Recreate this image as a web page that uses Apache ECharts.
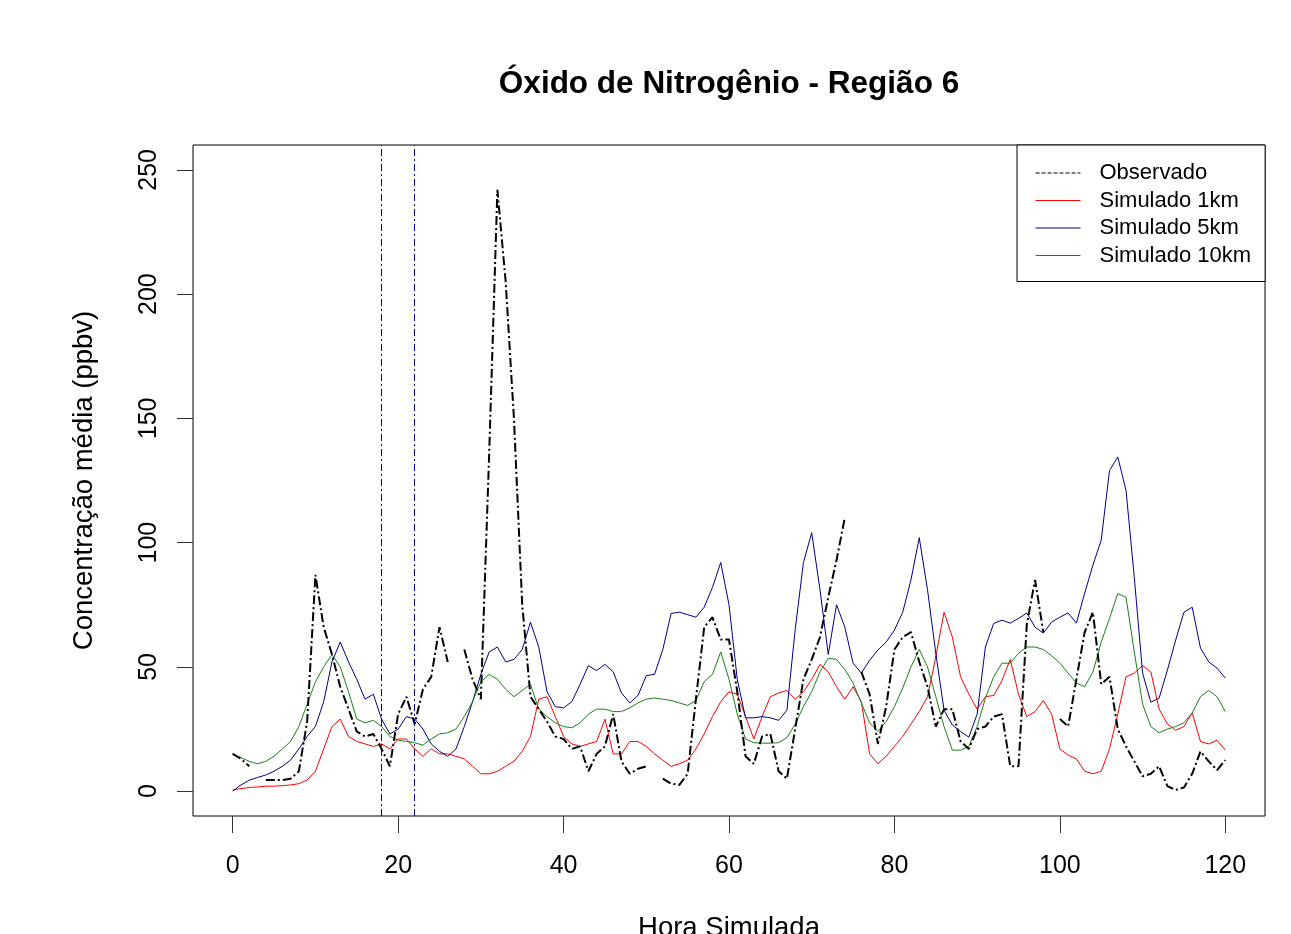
<!DOCTYPE html>
<html>
<head>
<meta charset="utf-8">
<script src="https://cdn.jsdelivr.net/npm/echarts@6/dist/echarts.min.js"></script>
<style>
html,body{margin:0;padding:0;background:#fff;}
#chart{width:1291px;height:934px;}
</style>
</head>
<body>
<div id="chart"></div>
<script>
// ---- data (hours 0..120) ----
const observado = [15,13,10,null,4.5,4.5,4.5,5,8,28,87,66,55,42,33,24,22,23,17,10,31,38,27,41,46,66,52,null,57,45,37,135,242,205,150,75,38,33,28,22,21,17,18,8,15,18,31,12,7,9,10,null,5,3,2.5,7,37,66,70,61,61,40,14,11,22,23,8,5,25,45,53,62,78,93,110,null,48,39,19,34,57,62,64,52,42,26,33,33,20,17,25,26,30,31,10,10,67,85,64,null,29,26,45,64,72,43,46,25,18,12,6,7,10,2,0.5,1.5,7,16,12,8.5,12.5];
const sim1km = [0.5,1,1.5,1.7,2,2,2.2,2.5,3,4.5,8,17,26,29,22,20,19,18,19,17,21,21,17,14,17,15,15,14,13,10,7,7,8,10,12,16,22,37,38,30,22,19,18,19,20,29,15,15,20,20,18,15,12.5,10,11,12.5,17,23,30,36,40,39,30,21,30,38,39.5,40.5,37,40,45,51,48,42,37,42,36,15,11,14,18,22,27,32,38,54,72,62,46,39,33,38,38.5,44.5,53,39,30,32,36.5,31,17,14.5,13,8,7,8,17,31,46,47.5,50.5,48,33,27,24.5,26,31.5,20,19,20.5,16.5];
const sim5km = [0,2.5,4.4,5.5,6.5,8,10,12.5,17,22,26,36,52,60,52,45,37,39,29,23,25,30,29,25,19,16,14,17,26,36,47,56,58,52,53,57,68,58,40,34,33.5,36,43,50.5,48.5,51,48,39.5,35.5,38.5,46.5,47,57,71.5,72,71,70,74,82,92,75,45,29.5,29.5,30,29.5,28.5,32.5,65,92,104,81,55,75,66,51.5,47.5,52.7,56.8,60,64.8,72,85,102,81,55.5,32.6,26.6,24,21.7,31,58,67.5,68.8,67.6,69.5,71.7,66,63.6,68,70,71.7,67.6,79.7,91,101,129,134.5,121,86,47.5,35.8,37.4,48.7,60.8,72,74,57.6,52,49.5,45.5];
const sim10km = [15,13.5,12,11,12,14,17,20,26,35,44,50,55,50,40,29,27.5,28.5,26,22,20.5,20,19.5,18.5,21,23,23.5,25,30,36,44,47,45,41,38,40.5,43,33,30,27.5,26,25.5,27.5,31,33,33,32,32,33.5,35.5,37,37.5,37,36.5,35.5,34.5,36.5,44,47,56,45,31,21,19.5,19.3,19.3,19.5,21.5,27,34,40,48,53.5,53,49,43.5,35.5,27.5,24,28,34,41.5,50,57,50,38,26,16.5,16.5,18,26,37.5,46,51.5,51.5,55.5,58,58,57,54.5,51.5,47.5,43.5,42,48,60,69.5,79.5,78,56,35,26,23.5,25,26,27.5,31.5,38,40.5,38,32];
const markHours = [18, 22];
const xTicks = [0,20,40,60,80,100,120];
const yTicks = [0,50,100,150,200,250];
const seriesNames = ['Observado','Simulado 1km','Simulado 5km','Simulado 10km'];

function pairs(arr){ return arr.map((v,i)=>[i, v===null ? '-' : v]); }

const FONT = 'Liberation Sans, Arial, sans-serif';
const chart = echarts.init(document.getElementById('chart'), null, {renderer:'canvas'});
chart.setOption({
  animation:false,
  backgroundColor:'#ffffff',
  title:{
    text:'Óxido de Nitrogênio - Região 6',
    left:724, top:63, textAlign:'center',
    textStyle:{fontFamily:FONT, fontSize:31.5, fontWeight:'bold', color:'#000'}
  },
  grid:{left:193, top:145, right:26, bottom:118, show:true, borderColor:'#000', borderWidth:1,
        containLabel:false, outerBoundsMode:'none'},
  legend:{
    orient:'vertical', left:1017, top:145,
    padding:[17,14,15,18], itemGap:5.5, itemWidth:45, itemHeight:14,
    backgroundColor:'#fff', borderColor:'#000', borderWidth:1, borderRadius:0,
    itemStyle:{opacity:0},
    textStyle:{fontFamily:FONT, fontSize:22, color:'#000', padding:[0,0,0,14], lineHeight:22},
    data:[
      {name:seriesNames[0], itemStyle:{opacity:0}, lineStyle:{width:1, type:[4,2]}},
      {name:seriesNames[1], itemStyle:{opacity:0}, lineStyle:{width:1}},
      {name:seriesNames[2], itemStyle:{opacity:0}, lineStyle:{width:1}},
      {name:seriesNames[3], itemStyle:{opacity:0}, lineStyle:{width:1}}
    ]
  },
  xAxis:{
    type:'value', min:-4.8, max:124.8,
    name:'Hora Simulada', nameLocation:'middle', nameGap:98,
    nameTextStyle:{fontFamily:FONT, fontSize:27.5, color:'#000'},
    axisLine:{show:false, onZero:false},
    axisTick:{show:true, length:17, customValues:xTicks, lineStyle:{color:'#333'}},
    axisLabel:{customValues:xTicks, fontFamily:FONT, fontSize:25, color:'#000', margin:38},
    splitLine:{show:false}
  },
  yAxis:{
    type:'value', min:-10, max:260,
    name:'Concentração média (ppbv)', nameLocation:'middle', nameGap:95,
    nameTextStyle:{fontFamily:FONT, fontSize:27.5, color:'#000'},
    axisLine:{show:false, onZero:false},
    axisTick:{show:true, length:16, customValues:yTicks, lineStyle:{color:'#333'}},
    axisLabel:{customValues:yTicks, rotate:90, fontFamily:FONT, fontSize:25, color:'#000', margin:31},
    splitLine:{show:false}
  },
  series:[
    {name:seriesNames[0], type:'line', data:pairs(observado), symbol:'none', connectNulls:false,
     lineStyle:{color:'#000', width:2, type:[9,3,2,3]}, itemStyle:{color:'#000'}, z:3,
     markLine:{silent:true, symbol:'none', label:{show:false}, animation:false,
       lineStyle:{color:'#0000a0', width:1, type:[7,3,2,3]},
       data:markHours.map(h=>({xAxis:h}))}},
    {name:seriesNames[1], type:'line', data:pairs(sim1km), symbol:'none',
     lineStyle:{color:'#ff0000', width:1}, itemStyle:{color:'#ff0000'}, z:2},
    {name:seriesNames[2], type:'line', data:pairs(sim5km), symbol:'none',
     lineStyle:{color:'#00008b', width:1}, itemStyle:{color:'#00008b'}, z:2},
    {name:seriesNames[3], type:'line', data:pairs(sim10km), symbol:'none',
     lineStyle:{color:'#1a801a', width:1}, itemStyle:{color:'#1a801a'}, z:2}
  ]
});
</script>
</body>
</html>
